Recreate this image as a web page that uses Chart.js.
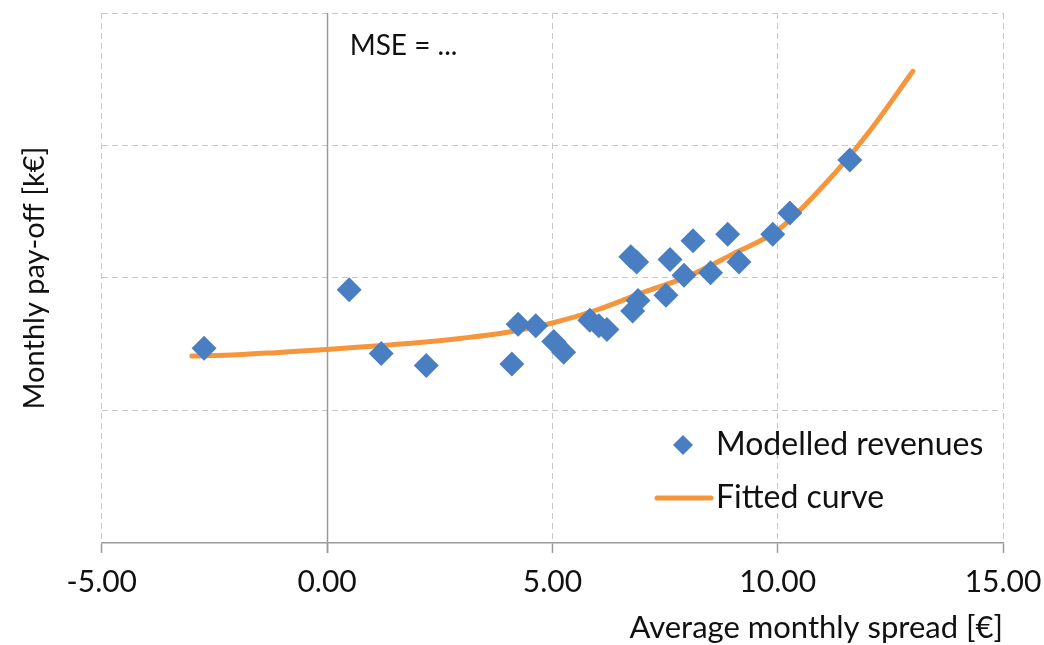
<!DOCTYPE html>
<html>
<head>
<meta charset="utf-8">
<script src="https://cdn.jsdelivr.net/npm/chart.js@4.4.1/dist/chart.umd.min.js"></script>
<style>
  html, body { margin: 0; padding: 0; background: #fff; }
  #wrap { width: 1044px; height: 645px; }
</style>
</head>
<body>
<div id="wrap"><canvas id="chart"></canvas></div>
<script>
// modelled revenues (scatter)
const spreadX = [-2.73, 0.49, 1.20, 2.20, 4.10, 4.24, 4.63, 5.03, 5.25, 5.83, 6.03, 6.21, 6.74, 6.87, 6.90, 6.78, 7.52, 7.61, 7.92, 8.12, 8.51, 8.89, 9.14, 9.89, 10.27, 11.60];
const payoffY = [1.47, 1.91, 1.43, 1.34, 1.35, 1.65, 1.64, 1.52, 1.44, 1.68, 1.64, 1.61, 2.16, 2.12, 1.83, 1.75, 1.87, 2.14, 2.02, 2.28, 2.04, 2.33, 2.12, 2.33, 2.49, 2.89];

// fitted curve
const curveX = [-3, -2, -1, 0, 1, 2, 3, 4, 5, 6, 7, 8, 9, 10, 11, 12, 13];
const curveY = [1.41, 1.42, 1.44, 1.46, 1.485, 1.51, 1.545, 1.59, 1.66, 1.76, 1.89, 2.01, 2.18, 2.36, 2.69, 3.09, 3.56];

const xTicks = [-5, 0, 5, 10, 15];
const seriesNames = ["Modelled revenues", "Fitted curve"];
const mseLabel = "MSE = ...";

const BLUE = "#4a7ec2";
const ORANGE = "#f5963c";
const FONT = "Lato, 'Noto Sans', sans-serif";

// vertical axis line at x = 0, MSE note and in-plot legend
const extrasPlugin = {
  id: "extras",
  beforeDatasetsDraw(chart) {
    const { ctx, scales: { x, y } } = chart;
    const px = Math.round(x.getPixelForValue(0)) + 0.5;
    ctx.save();
    ctx.strokeStyle = "#9a9a9a";
    ctx.lineWidth = 1.5;
    ctx.beginPath();
    ctx.moveTo(px, y.getPixelForValue(y.max));
    ctx.lineTo(px, y.getPixelForValue(y.min) + 10);
    ctx.stroke();
    ctx.restore();
  },
  afterDraw(chart) {
    const { ctx, scales: { x, y } } = chart;
    ctx.save();
    ctx.fillStyle = "#111";
    ctx.textBaseline = "middle";
    ctx.textAlign = "left";
    ctx.font = "28px " + FONT;
    ctx.fillText(mseLabel, x.getPixelForValue(0.5), y.getPixelForValue(3.75));

    // legend
    const lx = 716;
    const row1 = 445, row2 = 498;
    ctx.font = "32px " + FONT;
    ctx.fillText(seriesNames[0], lx, row1);
    ctx.fillText(seriesNames[1], lx, row2);

    ctx.fillStyle = BLUE;
    ctx.beginPath();
    const cx = 683, r = 10;
    ctx.moveTo(cx, row1 - r);
    ctx.lineTo(cx + r, row1);
    ctx.lineTo(cx, row1 + r);
    ctx.lineTo(cx - r, row1);
    ctx.closePath();
    ctx.fill();

    ctx.strokeStyle = ORANGE;
    ctx.lineWidth = 5;
    ctx.lineCap = "round";
    ctx.beginPath();
    ctx.moveTo(657, row2);
    ctx.lineTo(711, row2);
    ctx.stroke();
    ctx.restore();
  }
};

new Chart(document.getElementById("chart"), {
  type: "scatter",
  data: {
    datasets: [
      {
        label: seriesNames[0],
        data: spreadX.map((v, i) => ({ x: v, y: payoffY[i] })),
        pointStyle: "rectRot",
        pointRadius: 12.5,
        pointHoverRadius: 12.5,
        backgroundColor: BLUE,
        borderColor: BLUE,
        borderWidth: 0,
        order: 1
      },
      {
        label: seriesNames[1],
        type: "line",
        data: curveX.map((v, i) => ({ x: v, y: curveY[i] })),
        borderColor: ORANGE,
        borderWidth: 5,
        borderCapStyle: "round",
        pointRadius: 0,
        fill: false,
        cubicInterpolationMode: "monotone",
        order: 2
      }
    ]
  },
  options: {
    responsive: true,
    maintainAspectRatio: false,
    animation: false,
    layout: { padding: { top: 13, right: 41, left: 0, bottom: 0 } },
    plugins: {
      legend: { display: false },
      tooltip: { enabled: false }
    },
    scales: {
      x: {
        type: "linear",
        min: -5,
        max: 15,
        afterBuildTicks: (axis) => { axis.ticks = xTicks.map(v => ({ value: v })); },
        // let the layout padding decide the right edge, not the last label
        afterFit: (axis) => { axis.paddingRight = 0; axis.paddingLeft = 0; },
        ticks: {
          color: "#111",
          font: { family: FONT, size: 30 },
          padding: 11,
          maxRotation: 0,
          callback: (v) => Number(v).toFixed(2)
        },
        grid: {
          color: "#c8c8c8",
          lineWidth: 1,
          tickLength: 10,
          tickColor: "#9a9a9a",
          tickWidth: 1.5
        },
        border: { display: true, color: "#9a9a9a", width: 1.5, dash: [6, 4] },
        title: {
          display: true,
          text: "Average monthly spread [€]",
          align: "end",
          color: "#111",
          font: { family: FONT, size: 31, lineHeight: 1.1 },
          padding: { top: 0, bottom: 0 }
        }
      },
      y: {
        type: "linear",
        min: 0,
        max: 4,
        ticks: { display: false, stepSize: 1 },
        grid: { color: "#c8c8c8", lineWidth: 1, drawTicks: false },
        border: { display: false, dash: [6, 4] },
        title: {
          display: true,
          text: "Monthly pay-off [k€]",
          color: "#111",
          font: { family: FONT, size: 29 },
          padding: { top: 17, bottom: 50 }
        }
      }
    }
  },
  plugins: [extrasPlugin]
});
</script>
</body>
</html>
